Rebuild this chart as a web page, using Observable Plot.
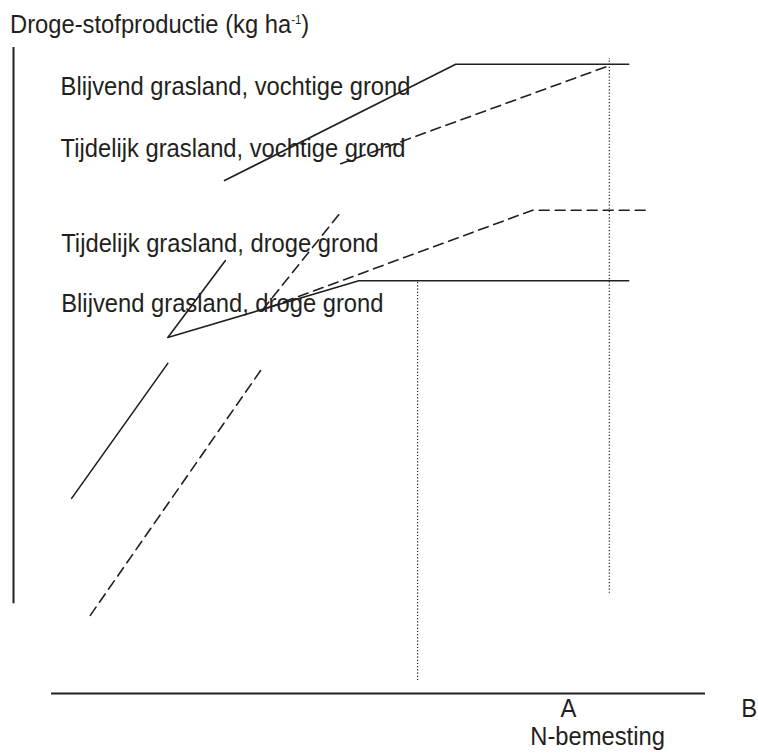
<!DOCTYPE html>
<html><head><meta charset="utf-8">
<script src="https://cdn.jsdelivr.net/npm/d3@7"></script>
<script src="https://cdn.jsdelivr.net/npm/@observablehq/plot@0.6"></script>
<style>
body{margin:0;background:#fff;font-family:"Liberation Sans",Arial,sans-serif;color:#231f20}
#title{height:40px;box-sizing:border-box;padding:12px 0 0 10px;font-size:25px;line-height:25px;white-space:nowrap}
#title span.t{display:inline-block;transform:scaleX(0.95);transform-origin:0 0}
#title sup{font-size:12px;line-height:0;vertical-align:9px}
#chart svg{display:block}
</style></head><body>
<div id="title"><span class="t">Droge-stofproductie (kg ha<sup>-1</sup>)</span></div>
<div id="chart"></div>
<script>
// Schematic curves: N-bemesting (n, arbitrary units) vs droge-stofproductie (p, arbitrary units)
const blijvendVochtig = [
  {seg: 1, n: 30.5, p: 79.4}, {seg: 1, n: 63.9, p: 97.4}, {seg: 1, n: 88.9, p: 97.4}
];
const tijdelijkVochtig = [
  {seg: 1, n: 47.3, p: 82.0}, {seg: 1, n: 86.1, p: 97.2}
];
const blijvendDroog = [
  {seg: 1, n: 8.4, p: 30.2}, {seg: 1, n: 22.3, p: 51.1},
  {seg: 2, n: 30.6, p: 67.0}, {seg: 2, n: 22.3, p: 55.1}, {seg: 2, n: 49.9, p: 63.9}, {seg: 2, n: 88.9, p: 63.9}
];
const tijdelijkDroog = [
  {seg: 1, n: 11.1, p: 12.1}, {seg: 1, n: 36.1, p: 50.6},
  {seg: 2, n: 47.0, p: 74.1}, {seg: 2, n: 36.0, p: 59.4}, {seg: 2, n: 75.0, p: 74.8}, {seg: 2, n: 91.8, p: 74.8}
];
// Vertical guide lines (N optimum)
const guides = [
  {n: 58.4, p1: 2.0, p2: 63.9},
  {n: 86.1, p1: 15.5, p2: 98.3}
];
// Axis extents
const yAxisLine = [{n: 0, p1: 13.9, p2: 100}];
const xAxisLine = [{p: 0, n1: 5.5, n2: 100}];
// Labels
const curveNames = [
  "Blijvend grasland, vochtige grond",
  "Tijdelijk grasland, vochtige grond",
  "Tijdelijk grasland, droge grond",
  "Blijvend grasland, droge grond"
];
const labelN = [6.8, 6.8, 6.9, 6.9];
const labelP = [92.7, 83.1, 68.4, 59.0];
const xTickLabels = ["A", "B"];
const xTickN = [80.2, 106.3];
const xTickP = -3.7;
const xTitle = "N-bemesting";
const xTitleN = 84.4;
const xTitleP = -8.0;

const ink = "#231f20";
const font = '"Liberation Sans",Arial,sans-serif';

const labels = curveNames.map((t, i) => ({t, n: labelN[i], p: labelP[i]}));
const ticks = xTickLabels.map((t, i) => ({t, n: xTickN[i], p: xTickP}));

const chart = Plot.plot({
  width: 758,
  height: 713,
  marginLeft: 13,
  marginRight: 53,
  marginTop: 7,
  marginBottom: 60,
  x: {domain: [0, 100], axis: null},
  y: {domain: [0, 100], axis: null},
  style: {fontFamily: font, background: "#fff", overflow: "visible"},
  marks: [
    Plot.text(labels, {x: "n", y: "p", text: "t", textAnchor: "start", lineAnchor: "bottom", fontSize: 25, fill: ink}),
    Plot.text(ticks, {x: "n", y: "p", text: "t", textAnchor: "middle", lineAnchor: "bottom", fontSize: 25, fill: ink}),
    Plot.text([xTitle], {x: () => xTitleN, y: () => xTitleP, text: d => d, textAnchor: "middle", lineAnchor: "bottom", fontSize: 25, fill: ink}),
    Plot.ruleX(yAxisLine, {x: "n", y1: "p1", y2: "p2", stroke: ink, strokeWidth: 2}),
    Plot.ruleY(xAxisLine, {y: "p", x1: "n1", x2: "n2", stroke: ink, strokeWidth: 2}),
    Plot.ruleX(guides, {x: "n", y1: "p1", y2: "p2", stroke: ink, strokeWidth: 1.2, strokeDasharray: "1.2,2"}),
    Plot.line(blijvendVochtig, {x: "n", y: "p", z: "seg", stroke: ink, strokeWidth: 1.6}),
    Plot.line(blijvendDroog, {x: "n", y: "p", z: "seg", stroke: ink, strokeWidth: 1.6}),
    Plot.line(tijdelijkVochtig, {x: "n", y: "p", z: "seg", stroke: ink, strokeWidth: 1.6, strokeDasharray: "10,6"}),
    Plot.line(tijdelijkDroog, {x: "n", y: "p", z: "seg", stroke: ink, strokeWidth: 1.6, strokeDasharray: "10,6"})
  ]
});
document.getElementById("chart").appendChild(chart);
// slightly condense the lettering, as in the original typeface
chart.querySelectorAll("text").forEach(el => {
  const w = el.getComputedTextLength();
  if (w > 0) {
    el.setAttribute("textLength", (w * 0.95).toFixed(1));
    el.setAttribute("lengthAdjust", "spacingAndGlyphs");
  }
});
</script>
</body></html>
